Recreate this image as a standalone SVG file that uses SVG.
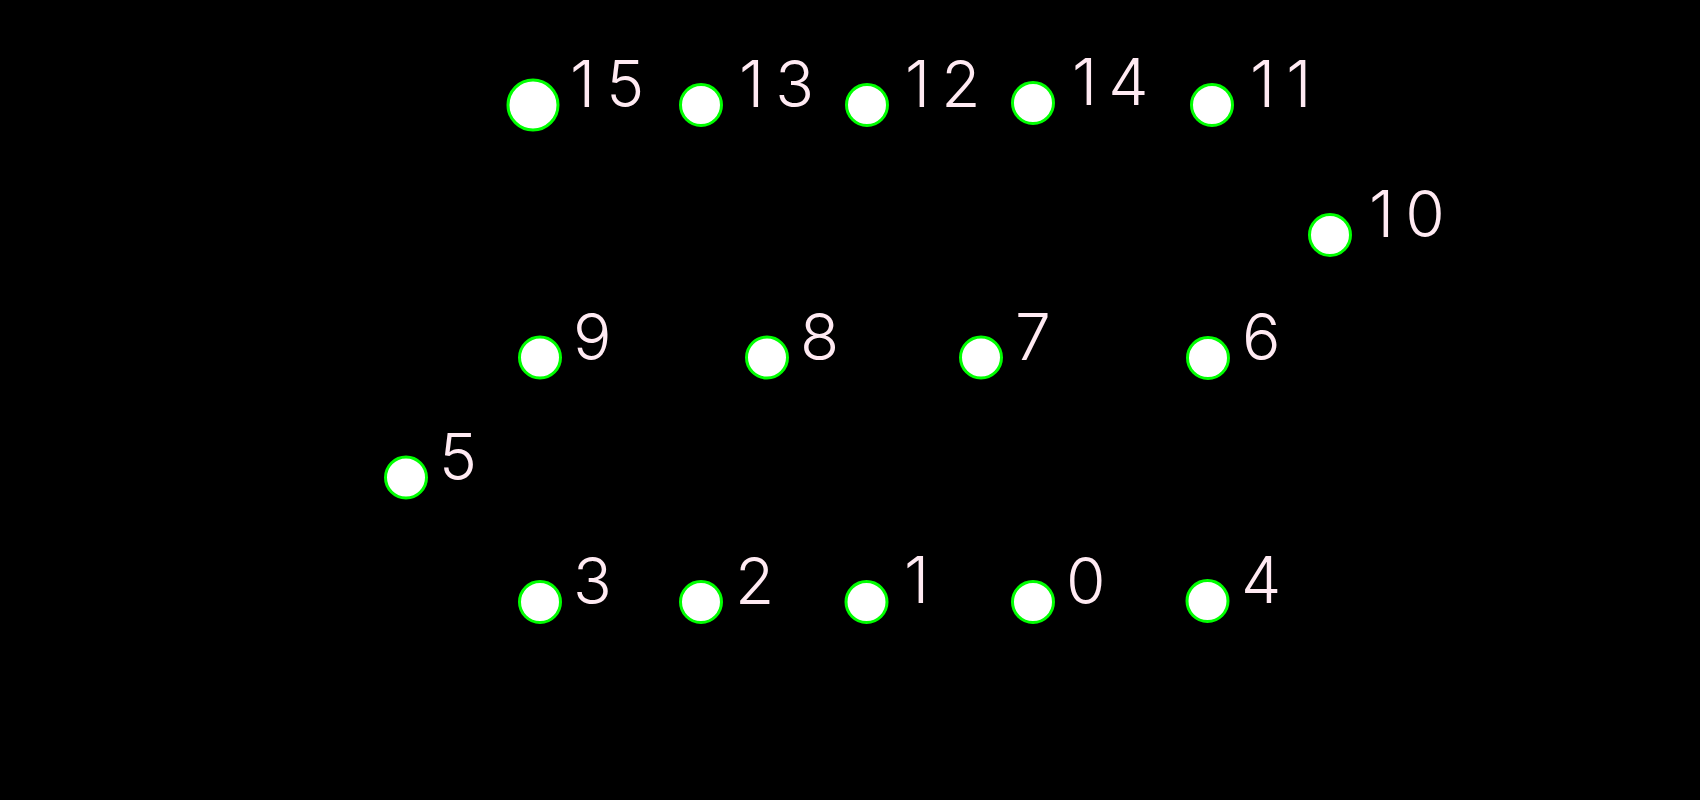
<svg xmlns="http://www.w3.org/2000/svg" width="1700" height="800" viewBox="0 0 1700 800">
<style>
.n{fill:#ffffff;stroke:#00ff00;stroke-width:3}
.t{fill:#ffeaf2;font-family:Inter,"Liberation Sans",sans-serif;font-size:64px;font-weight:300}
.w{letter-spacing:11px}
</style>
<rect width="1700" height="800" fill="#000000"/>
<g id="connectors"></g>
<g id="node0"><circle class="n" cx="1033" cy="602" r="20.5"/><text class="t" x="1066" y="604">0</text></g>
<g id="node1"><circle class="n" cx="866.5" cy="602" r="20.5"/><text class="t" x="904" y="603">1</text></g>
<g id="node2"><circle class="n" cx="701" cy="602" r="20.5"/><text class="t" x="735" y="604">2</text></g>
<g id="node3"><circle class="n" cx="540" cy="602" r="20.5"/><text class="t" x="573" y="604">3</text></g>
<g id="node4"><circle class="n" cx="1207.5" cy="601" r="20.5"/><text class="t" x="1241" y="603">4</text></g>
<g id="node5"><circle class="n" cx="406" cy="477.5" r="20.5"/><text class="t" x="439" y="480">5</text></g>
<g id="node6"><circle class="n" cx="1208" cy="358" r="20.5"/><text class="t" x="1242" y="360">6</text></g>
<g id="node7"><circle class="n" cx="981" cy="357.5" r="20.5"/><text class="t" x="1015" y="360">7</text></g>
<g id="node8"><circle class="n" cx="767" cy="357.5" r="20.5"/><text class="t" x="800" y="360">8</text></g>
<g id="node9"><circle class="n" cx="540" cy="357.5" r="20.5"/><text class="t" x="573" y="360">9</text></g>
<g id="node10"><circle class="n" cx="1330" cy="235" r="20.5"/><text class="t w" x="1369" y="237">10</text></g>
<g id="node11"><circle class="n" cx="1212" cy="105" r="20.5"/><text class="t w" x="1250" y="107">11</text></g>
<g id="node12"><circle class="n" cx="867" cy="105" r="20.5"/><text class="t w" x="905" y="107">12</text></g>
<g id="node13"><circle class="n" cx="701" cy="105" r="20.5"/><text class="t w" x="739" y="107">13</text></g>
<g id="node14"><circle class="n" cx="1033" cy="103" r="20.5"/><text class="t w" x="1072" y="105">14</text></g>
<g id="node15"><circle class="n" cx="533" cy="105" r="25"/><text class="t w" x="570" y="107">15</text></g>
</svg>
